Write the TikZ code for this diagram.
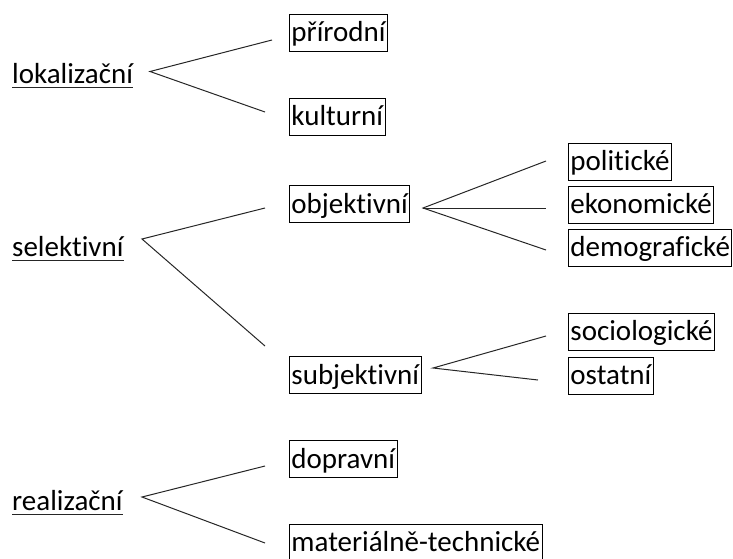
\documentclass[tikz,border=0pt]{standalone}
\usepackage{fontspec}
\setmainfont{Carlito}[RawFeature={-liga;-clig;-dlig}]
\begin{document}
\begin{tikzpicture}[x=1pt,y=-1pt,
  every node/.style={font=\fontsize{29}{34}\selectfont},
  box/.style={draw=black, line width=0.9pt, anchor=west, inner xsep=2pt, inner ysep=1.5pt, text height=26pt, text depth=8pt},
  lab/.style={anchor=base west, inner sep=0pt},
  branch/.style={draw=black!85, line width=1pt},
  uline/.style={draw=black!85, line width=1pt}]
\useasboundingbox (0,0) rectangle (733,558);
\clip (0,0) rectangle (733,558);
% left labels
\node[lab] (lok) at (12,83.5) {lokalizační};
\node[lab] (sel) at (12,256.5) {selektivní};
\node[lab] (real) at (12,510.5) {realizační};
\foreach \n in {lok,sel,real}
  \draw[uline] ([yshift=-3.8pt]\n.base west) -- ([yshift=-3.8pt]\n.base east);
% boxes
\node[box] (prir) at (289,32.5) {přírodní};
\node[box] (kult) at (289,116.5) {kulturní};
\node[box] (obj) at (289,204) {objektivní};
\node[box] (subj) at (289,375) {subjektivní};
\node[box] (dop) at (289,459) {dopravní};
\node[box] (mat) at (289,542.5) {materiálně-technické};
\node[box] (pol) at (568,161.5) {politické};
\node[box] (eko) at (568,204.5) {ekonomické};
\node[box] (dem) at (568,247.5) {demografické};
\node[box] (soc) at (568,331.5) {sociologické};
\node[box] (ost) at (568,375.5) {ostatní};
% branch points
\coordinate (lokA) at (150,71.5);
\coordinate (lokP) at (272,40);
\coordinate (lokK) at (265,112);
\coordinate (selA) at (142,239);
\coordinate (selO) at (265,208);
\coordinate (selS) at (265,346);
\coordinate (objA) at (423,208);
\coordinate (objP) at (546,161);
\coordinate (objE) at (546,208);
\coordinate (objD) at (546,250);
\coordinate (subA) at (433,368);
\coordinate (subS) at (546,336);
\coordinate (subO) at (538,380);
\coordinate (realA) at (142,497);
\coordinate (realD) at (265,466);
\coordinate (realM) at (265,543);
\draw[branch] (lokP) -- (lokA) -- (lokK);
\draw[branch] (selO) -- (selA) -- (selS);
\draw[branch] (objP) -- (objA) -- (objD);
\draw[branch] (objA) -- (objE);
\draw[branch] (subS) -- (subA) -- (subO);
\draw[branch] (realD) -- (realA) -- (realM);
\end{tikzpicture}
\end{document}
